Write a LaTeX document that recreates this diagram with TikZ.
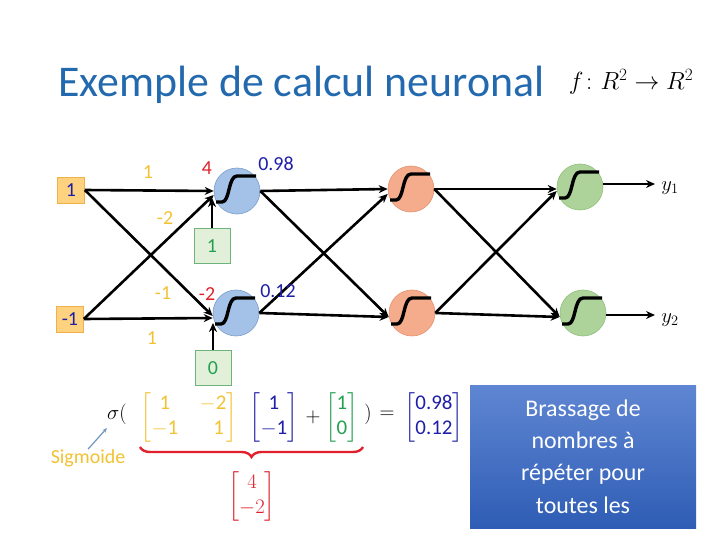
\documentclass[tikz,border=0pt]{standalone}
\usepackage{amsmath}
\usepackage{fontspec}
\setmainfont{Carlito}
\usetikzlibrary{arrows.meta,decorations.pathreplacing,calc}
\definecolor{titleblue}{HTML}{2369AE}
\definecolor{navy}{HTML}{1E1EA8}
\definecolor{wyellow}{HTML}{F2C233}
\definecolor{sred}{HTML}{E0202A}
\definecolor{bgreen}{HTML}{22A050}
\definecolor{bgfill}{HTML}{E2F0D9}
\definecolor{bgdraw}{HTML}{6DB37A}
\definecolor{infill}{HTML}{FFD27F}
\definecolor{indraw}{HTML}{F2B04A}
\definecolor{c1fill}{HTML}{A4C2E8}
\definecolor{c1draw}{HTML}{7A9CC8}
\definecolor{c2fill}{HTML}{F4AC8C}
\definecolor{c2draw}{HTML}{E69070}
\definecolor{c3fill}{HTML}{AED39A}
\definecolor{c3draw}{HTML}{8DBF78}
\definecolor{steel}{HTML}{6F98C0}
\definecolor{boxtop}{HTML}{5F86D2}
\definecolor{boxbot}{HTML}{2F5DB5}
\tikzset{
  lbl/.style={font=\fontsize{20}{24}\selectfont, inner sep=0pt},
  inbox/.style={draw=indraw, fill=infill, line width=0.6bp, minimum width=27bp, minimum height=26bp, inner sep=0pt, text=navy, font=\fontsize{20}{24}\selectfont},
  biasbox/.style={draw=bgdraw, fill=bgfill, line width=0.6bp, minimum width=36bp, minimum height=35bp, inner sep=0pt, text=bgreen, font=\fontsize{20}{24}\selectfont},
  neuron/.style={circle, minimum size=46bp, inner sep=0pt, line width=0.6bp},
  hid/.style={neuron, fill=c1fill, draw=c1draw},
  mid/.style={neuron, fill=c2fill, draw=c2draw},
  outn/.style={neuron, fill=c3fill, draw=c3draw},
  conn/.style={line width=2.6bp, -{Stealth[length=9bp,width=8bp]}},
  sigcurve/.style={line width=3.4bp, line join=round},
  eq/.style={font=\fontsize{21}{25}\selectfont, inner sep=0pt},
}
\begin{document}
\begin{tikzpicture}[x=1bp,y=-1bp]
\useasboundingbox (0,0) rectangle (720,540);
% title
\node[anchor=base west, inner sep=0pt, text=titleblue, font=\fontsize{44}{50}\selectfont] (title) at (58,97) {Exemple de calcul neuronal};
\node[inner sep=0pt, font=\fontsize{25}{30}\selectfont] (fmap) at (631,82) {$f\colon R^{2}\rightarrow R^{2}$};
% inputs
\node[inbox] (x1) at (71,190) {1};
\node[inbox] (x2) at (70,319) {-1};
% neurons
\node[hid] (h1) at (237,191) {};
\node[hid] (h2) at (236,313) {};
\node[mid] (o1) at (411,189) {};
\node[mid] (o2) at (412,313) {};
\node[outn] (g1) at (580,187) {};
\node[outn] (g2) at (583,313) {};
% biases
\node[biasbox] (b1) at (212,246) {1};
\node[biasbox] (b2) at (213,368) {0};
% sigmoid curves
\foreach \n in {h1,h2,o1,o2,g1,g2}{
  \draw[sigcurve] ([shift={(-21,11)}]\n.center) -- ([shift={(-15,11)}]\n.center)
    .. controls ([shift={(-7,11)}]\n.center) and ([shift={(-9,-15)}]\n.center) .. ([shift={(0,-15)}]\n.center)
    -- ([shift={(19,-15)}]\n.center);
}
% connectors layer 1
\draw[conn] (x1.east) -- (h1.west);
\draw[conn] (x1.east) -- ([shift={(0,3)}]h2.west);
\draw[conn] (x2.east) -- ([shift={(0,4)}]h1.west);
\draw[conn] (x2.east) -- ([shift={(0,5)}]h2.west);
\draw[conn] (b1.north) -- ($(b1.north |- h1.west)+(0,7)$);
\draw[conn] (b2.north) -- ($(b2.north |- h2.west)+(0,10)$);
% layer 2
\draw[conn] (h1.east) -- (o1.west);
\draw[conn] (h1.east) -- ([shift={(0,4)}]o2.west);
\draw[conn] (h2.east) -- ([shift={(0,5)}]o1.west);
\draw[conn] (h2.east) -- ([shift={(0,4)}]o2.west);
% layer 3
\draw[conn] (o1.east) -- ([shift={(0,2)}]g1.west);
\draw[conn] (o1.east) -- ([shift={(0,4)}]g2.west);
\draw[conn] (o2.east) -- ([shift={(0,4)}]g1.west);
\draw[conn] (o2.east) -- ([shift={(0,4)}]g2.west);
% outputs
\coordinate (e1) at (655,184);
\coordinate (e2) at (655,315);
\draw[conn] (g1.east |- e1) -- (e1);
\draw[conn] (g2.east |- e2) -- (e2);
\node[lbl] (y1) at (670,188) {$y_{1}$};
\node[lbl] (y2) at (670,320) {$y_{2}$};
% weight labels
\node[lbl, text=wyellow] (w11) at (148,172) {1};
\node[lbl, text=wyellow] (w12) at (165,218) {-2};
\node[lbl, text=wyellow] (w21) at (163,293) {-1};
\node[lbl, text=wyellow] (w22) at (152,338) {1};
% sums
\node[lbl, text=sred] (s1) at (207,168) {4};
\node[lbl, text=sred] (s2) at (207,294) {-2};
% activations
\node[lbl, text=navy] (a1) at (276,164) {0.98};
\node[lbl, text=navy] (a2) at (278,291) {0.12};
% equation
\node[eq] (sig) at (117,414) {$\sigma($};
\node[eq, text=wyellow] (Wm) at (189,417) {$\begin{bmatrix}\text{1} & \;\;-\text{2}\\ -\text{1} & \;\;\;\;\text{1}\end{bmatrix}$};
\node[eq, text=navy] (xv) at (274,417) {$\begin{bmatrix}\text{1}\\ -\text{1}\end{bmatrix}$};
\node[eq] (plus) at (313,417) {$+$};
\node[eq, text=bgreen] (bv) at (342,417) {$\begin{bmatrix}\text{1}\\ \text{0}\end{bmatrix}$};
\node[eq] (rp) at (368,414) {$)$};
\node[eq] (eqs) at (387,415) {$=$};
\node[eq, text=navy] (res) at (434,417) {$\begin{bmatrix}\text{0.98}\\ \text{0.12}\end{bmatrix}$};
\coordinate (bl) at (140,447);
\coordinate (br) at (363,447);
\draw[sred, line width=2.4bp, decorate, decoration={brace, mirror, amplitude=10bp}] (bl) -- (br);
\node[eq, text=sred] (z) at (252,496) {$\begin{bmatrix}4\\ -2\end{bmatrix}$};
\node[lbl, text=wyellow] (sgm) at (88,458) {Sigmoide};
\draw[steel, line width=1.2bp, -{Stealth[length=5bp,width=4bp]}] (sgm.north) -- (107,428);
% blue box
\node[top color=boxtop, bottom color=boxbot, draw=none, minimum width=226bp, minimum height=143bp, inner sep=0pt, text=white, align=center, font=\fontsize{24}{32.5}\selectfont] (bb) at (583,456.5) {Brassage de\\nombres à\\répéter pour\\toutes les};
\end{tikzpicture}
\end{document}
